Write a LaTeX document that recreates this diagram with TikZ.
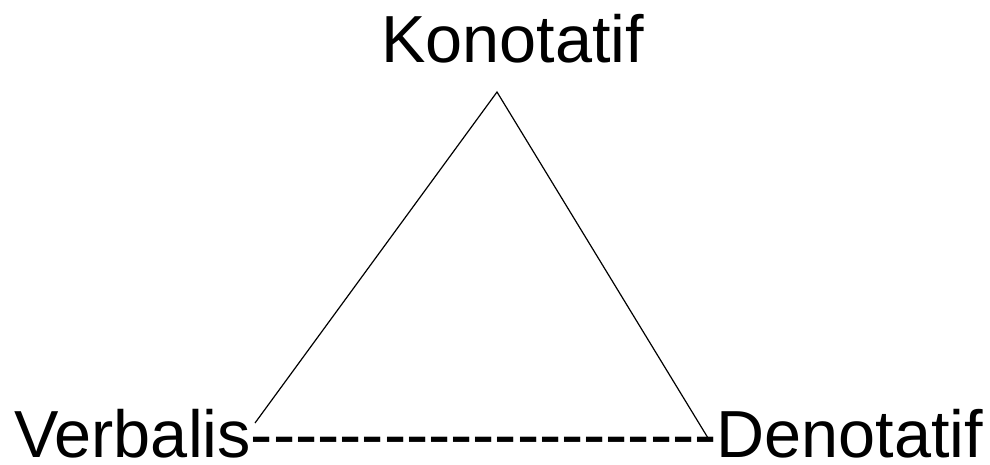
\documentclass[tikz,border=0pt]{standalone}
\usepackage{fontspec}
\setmainfont{Liberation Sans}
\newcommand\hy{-\kern0pt}
\begin{document}
\begin{tikzpicture}[x=1pt,y=-1pt,
  lbl/.style={inner sep=0pt,outer sep=0pt,text depth=0pt,font=\fontsize{66.6}{80}\selectfont},
  edge/.style={draw=black,line width=1.2pt}]
\useasboundingbox (0,0) rectangle (990,464);
\node[lbl,anchor=base west] (kon) at (381,62) {Konotatif};
\node[lbl,anchor=base west] (ver) at (14,457) {Verbalis};
\node[lbl,anchor=base west] (dash) at (ver.base east) {\hy\hy\hy\hy\hy\hy\hy\hy\hy\hy\hy\hy\hy\hy\hy\hy\hy\hy\hy\hy\hy};
\node[lbl,anchor=base west] (den) at (dash.base east) {Denotatif};
\coordinate (apex) at (497,92);
\coordinate (lend) at (255,423);
\coordinate (rend) at (708,438);
\coordinate (m1) at (814,425);
\coordinate (m2) at (825,423);
\draw[edge] (lend) -- (apex) -- (rend);
\draw[line width=1.6pt] (m1) -- (m2);
\end{tikzpicture}
\end{document}
